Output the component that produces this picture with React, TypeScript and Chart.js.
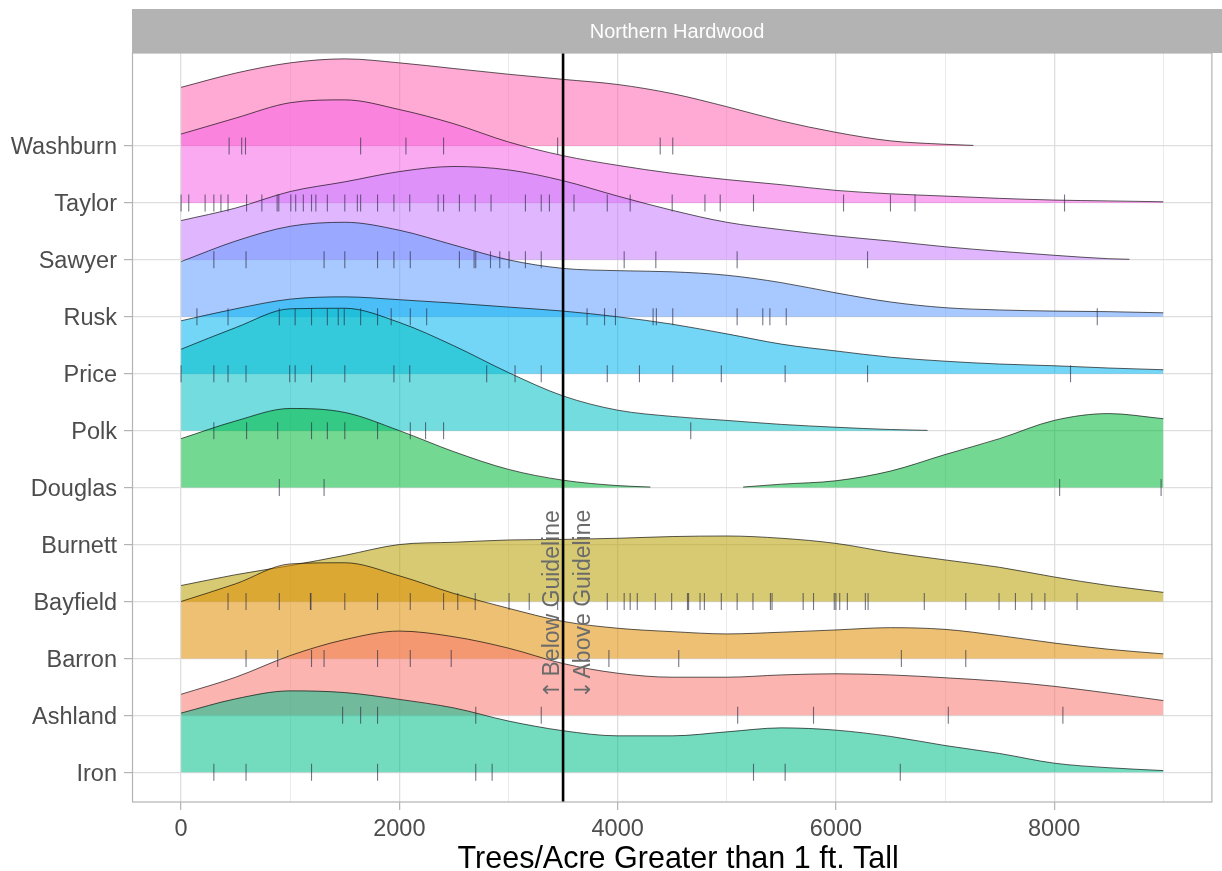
import React, { useEffect, useRef } from 'react';
import { Chart, registerables } from 'chart.js';

Chart.register(...registerables);

// ---------- DATA ----------
const COUNTIES = ['Iron', 'Ashland', 'Barron', 'Bayfield', 'Burnett', 'Douglas', 'Polk', 'Price', 'Rusk', 'Sawyer', 'Taylor', 'Washburn'];
const COLORS = ['#00C08B', '#F8766D', '#DE8C00', '#B79F00', '#7CAE00', '#00BA38', '#00BFC4', '#00B4F0', '#619CFF', '#C77CFF', '#F564E3', '#FF64B0'];

const STRIP_LABEL = 'Northern Hardwood';
const X_TITLE = 'Trees/Acre Greater than 1 ft. Tall';
const BELOW_LABEL = 'Below Guideline';
const ABOVE_LABEL = 'Above Guideline';
// arrows are part of the rotated labels (rotated 90° they point left / right)
const BELOW_ARROW = '\u2191';
const ABOVE_ARROW = '\u2193';
const GUIDELINE = 3500;
const X_GRID_TICKS = [0, 1000, 2000, 3000, 4000, 5000, 6000, 7000, 8000, 9000];
const X_TICK_LABELS = [0, 2000, 4000, 6000, 8000];

// density x positions (trees/acre)
const X_GRID = [0, 500, 1000, 1500, 2000, 2500, 3000, 3500, 4000, 4500, 5000, 5500, 6000, 6500, 7000, 7500, 8000, 8500, 9000];

// ridge heights (in row units)
const ironH = [1.04, 1.29, 1.43, 1.40, 1.28, 1.13, 0.90, 0.73, 0.64, 0.64, 0.71, 0.78, 0.74, 0.63, 0.47, 0.33, 0.16, 0.08, 0.03];
const ashlandH = [0.37, 0.67, 1.05, 1.33, 1.48, 1.38, 1.18, 0.91, 0.74, 0.67, 0.67, 0.71, 0.73, 0.71, 0.66, 0.60, 0.51, 0.39, 0.26];
const barronH = [1.00, 1.31, 1.66, 1.68, 1.45, 1.14, 0.88, 0.65, 0.53, 0.47, 0.43, 0.46, 0.50, 0.54, 0.51, 0.40, 0.27, 0.16, 0.08];
const bayfieldH = [0.28, 0.47, 0.63, 0.81, 1.00, 1.04, 1.08, 1.09, 1.11, 1.14, 1.15, 1.11, 1.02, 0.86, 0.73, 0.60, 0.43, 0.28, 0.16];
const douglasX1 = [0, 500, 1000, 1500, 2000, 2500, 3000, 3500, 4000, 4300];
const douglasH1 = [0.86, 1.17, 1.39, 1.32, 1.00, 0.63, 0.32, 0.13, 0.035, 0.01];
const douglasX2 = [5150, 5500, 6000, 6500, 7000, 7500, 8000, 8500, 9000];
const douglasH2 = [0.01, 0.06, 0.12, 0.29, 0.58, 0.86, 1.18, 1.30, 1.21];
const polkX = [0, 500, 1000, 1500, 2000, 2500, 3000, 3500, 4000, 4500, 5000, 5500, 6000, 6500, 6840];
const polkH = [1.43, 1.81, 2.14, 2.15, 1.90, 1.49, 1.02, 0.61, 0.36, 0.25, 0.18, 0.11, 0.06, 0.02, 0.005];
const priceH = [0.93, 1.14, 1.31, 1.35, 1.30, 1.24, 1.17, 1.10, 1.00, 0.87, 0.70, 0.52, 0.40, 0.29, 0.22, 0.17, 0.14, 0.10, 0.07];
const ruskH = [0.97, 1.33, 1.59, 1.66, 1.52, 1.26, 1.00, 0.85, 0.81, 0.79, 0.73, 0.60, 0.42, 0.26, 0.16, 0.12, 0.10, 0.09, 0.07];
const sawyerX = [0, 500, 1000, 1500, 2000, 2500, 3000, 3500, 4000, 4500, 5000, 5500, 6000, 6500, 7000, 7500, 8000, 8500, 8690];
const sawyerH = [0.69, 0.91, 1.20, 1.37, 1.55, 1.64, 1.58, 1.39, 1.12, 0.87, 0.66, 0.53, 0.42, 0.33, 0.23, 0.15, 0.08, 0.02, 0.01];
const taylorH = [1.21, 1.49, 1.76, 1.81, 1.64, 1.39, 1.07, 0.83, 0.66, 0.52, 0.41, 0.32, 0.22, 0.16, 0.12, 0.08, 0.05, 0.035, 0.02];
const washburnX = [0, 500, 1000, 1500, 2000, 2500, 3000, 3500, 4000, 4500, 5000, 5500, 6000, 6500, 7000, 7260];
const washburnH = [1.03, 1.28, 1.46, 1.53, 1.46, 1.36, 1.26, 1.17, 1.08, 0.92, 0.69, 0.44, 0.24, 0.09, 0.03, 0.01];

// rug (individual plot values)
const ironRug = [300, 595, 1195, 1800, 2700, 2850, 5245, 5535, 6590];
const ashlandRug = [1480, 1645, 1800, 2700, 3300, 5100, 5795, 7030, 8080];
const barronRug = [595, 885, 1195, 1310, 1800, 2100, 2475, 3920, 4560, 6600, 7190];
const bayfieldRug = [430, 595, 900, 1185, 1190, 1500, 1800, 2100, 2405, 2535, 2695, 3005, 3190, 3450, 3905, 4060, 4115, 4180, 4345, 4495, 4640, 4650, 4755, 4795, 4950, 5095, 5240, 5400, 5415, 5700, 5795, 5985, 6000, 6035, 6105, 6270, 6295, 6810, 7190, 7495, 7645, 7795, 7915, 8210];
const burnettRug: number[] = [];
const douglasRug = [900, 1310, 8050, 8980];
const polkRug = [300, 600, 885, 1195, 1340, 1500, 1800, 2100, 2240, 2405, 4670];
const priceRug = [0, 300, 430, 595, 995, 1045, 1195, 1500, 1950, 2095, 2800, 3060, 3300, 3905, 4200, 4505, 4950, 5535, 6290, 8150];
const ruskRug = [145, 430, 900, 1045, 1195, 1340, 1440, 1495, 1645, 1800, 1925, 2100, 2250, 3720, 3880, 3980, 4325, 4355, 4505, 5095, 5330, 5395, 5545, 8395];
const sawyerRug = [300, 595, 1310, 1500, 1800, 1950, 2100, 2550, 2685, 2700, 2835, 2920, 3005, 3155, 3300, 4060, 4350, 5095, 6290];
const taylorRug = [0, 70, 220, 300, 365, 430, 600, 740, 880, 895, 1005, 1050, 1120, 1195, 1235, 1340, 1500, 1615, 1645, 1800, 1950, 2095, 2355, 2405, 2550, 2695, 2840, 3155, 3300, 3375, 3600, 3905, 4115, 4500, 4800, 4940, 5245, 6070, 6500, 6725, 8095];
const washburnRug = [440, 555, 590, 1645, 2060, 2405, 3450, 4390, 4505];

const RIDGES: [string, number[], number[]][] = [
  ['Iron', X_GRID, ironH],
  ['Ashland', X_GRID, ashlandH],
  ['Barron', X_GRID, barronH],
  ['Bayfield', X_GRID, bayfieldH],
  ['Douglas', douglasX1, douglasH1],
  ['Douglas', douglasX2, douglasH2],
  ['Polk', polkX, polkH],
  ['Price', X_GRID, priceH],
  ['Rusk', X_GRID, ruskH],
  ['Sawyer', sawyerX, sawyerH],
  ['Taylor', X_GRID, taylorH],
  ['Washburn', washburnX, washburnH],
];

const RUGS: [string, number[]][] = [
  ['Iron', ironRug], ['Ashland', ashlandRug], ['Barron', barronRug], ['Bayfield', bayfieldRug],
  ['Burnett', burnettRug], ['Douglas', douglasRug], ['Polk', polkRug], ['Price', priceRug],
  ['Rusk', ruskRug], ['Sawyer', sawyerRug], ['Taylor', taylorRug], ['Washburn', washburnRug],
];

// ---------- STYLE ----------
const FONT = '"Liberation Sans", Arial, Helvetica, sans-serif';
const ARROW_FONT = '"DejaVu Sans", "Liberation Sans", sans-serif';

function rgba(hex: string, a: number) {
  const n = parseInt(hex.slice(1), 16);
  return `rgba(${(n >> 16) & 255},${(n >> 8) & 255},${n & 255},${a})`;
}

function rotatedText(ctx: any, text: string, x: number, y: number, align: string) {
  ctx.save();
  ctx.translate(x, y);
  ctx.rotate(-Math.PI / 2);
  ctx.textAlign = align;
  ctx.textBaseline = 'alphabetic';
  ctx.fillText(text, 0, 0);
  ctx.restore();
}

const decorPlugin = {
  id: 'decor',
  beforeDraw(chart: any) {
    const { ctx, chartArea: a } = chart;
    ctx.save();
    ctx.fillStyle = '#FFFFFF';
    ctx.fillRect(0, 0, chart.width, chart.height);
    ctx.fillStyle = '#B3B3B3';
    ctx.fillRect(a.left, 9, chart.width - a.left, a.top - 9);
    ctx.fillStyle = '#FFFFFF';
    ctx.font = `20px ${FONT}`;
    ctx.textAlign = 'center';
    ctx.textBaseline = 'middle';
    ctx.fillText(STRIP_LABEL, (a.left + chart.width) / 2, (9 + a.top) / 2 + 1);
    ctx.restore();
  },
  afterDatasetsDraw(chart: any) {
    const { ctx, chartArea: a, scales } = chart;
    const gx = scales.x.getPixelForValue(GUIDELINE);
    const cy = scales.y.getPixelForValue(COUNTIES.indexOf('Bayfield') + 1);
    ctx.save();
    // guideline
    ctx.strokeStyle = '#000000';
    ctx.lineWidth = 2.6;
    ctx.beginPath();
    ctx.moveTo(gx, a.top);
    ctx.lineTo(gx, a.bottom);
    ctx.stroke();
    // annotations
    ctx.fillStyle = '#6B6B6B';
    ctx.font = `23px ${FONT}`;
    rotatedText(ctx, BELOW_LABEL, gx - 4, cy + 75, 'left');
    rotatedText(ctx, ABOVE_LABEL, gx + 27, cy + 77, 'left');
    ctx.font = `22px ${ARROW_FONT}`;
    rotatedText(ctx, BELOW_ARROW, gx - 4, cy + 88, 'center');
    rotatedText(ctx, ABOVE_ARROW, gx + 27, cy + 88, 'center');
    // panel border
    ctx.strokeStyle = '#B3B3B3';
    ctx.lineWidth = 1.2;
    ctx.strokeRect(a.left + 0.5, a.top, a.right - a.left - 1, a.bottom - a.top);
    ctx.restore();
  },
  afterDraw(chart: any) {
    const { ctx, chartArea: a } = chart;
    ctx.save();
    ctx.fillStyle = '#000000';
    ctx.font = `30.5px ${FONT}`;
    ctx.textAlign = 'center';
    ctx.textBaseline = 'alphabetic';
    ctx.fillText(X_TITLE, (a.left + a.right) / 2 + 6, 868);
    ctx.restore();
  },
};

export default function App() {
  const ref = useRef<HTMLCanvasElement | null>(null);

  useEffect(() => {
    document.body.style.margin = '0';
    if (!ref.current) return;

    const ridgeSets = RIDGES.map(([county, xs, hs]) => {
      const idx = COUNTIES.indexOf(county);
      const base = idx + 1;
      return {
        type: 'line',
        label: county,
        data: xs.map((x, i) => ({ x, y: base + hs[i] })),
        fill: { value: base },
        backgroundColor: rgba(COLORS[idx], 0.55),
        borderColor: 'rgba(0,0,0,0.8)',
        borderWidth: 0.8,
        pointRadius: 0,
        cubicInterpolationMode: 'monotone',
        order: base,
      };
    });

    const rugPoints: { x: number; y: number }[] = [];
    RUGS.forEach(([county, vals]) => {
      const base = COUNTIES.indexOf(county) + 1;
      vals.forEach((v) => rugPoints.push({ x: v, y: base }));
    });

    const rugSet = {
      type: 'scatter',
      label: 'rug',
      data: rugPoints,
      showLine: false,
      pointStyle: 'line',
      rotation: 90,
      radius: 8.5,
      pointRadius: 8.5,
      borderColor: 'rgba(45,45,70,0.65)',
      borderWidth: 1.1,
      order: -1,
    };

    const chart = new Chart(ref.current, {
      type: 'line',
      data: { datasets: [...ridgeSets, rugSet] as any },
      plugins: [decorPlugin],
      options: {
        animation: false,
        responsive: true,
        maintainAspectRatio: false,
        events: [],
        layout: { padding: { top: 53, right: 1, left: 0, bottom: 0 } },
        plugins: { legend: { display: false }, tooltip: { enabled: false }, title: { display: false } },
        scales: {
          x: {
            type: 'linear',
            min: -450,
            max: 9450,
            afterFit: (s: any) => { s.height = 69; },
            afterBuildTicks: (s: any) => { s.ticks = X_GRID_TICKS.map((v) => ({ value: v })); },
            border: { display: false },
            grid: {
              color: (c: any) => (c.tick && c.tick.value % 2000 === 0 ? '#DEDEDE' : '#E9E9E9'),
              lineWidth: (c: any) => (c.tick && c.tick.value % 2000 === 0 ? 1.3 : 0.9),
              tickColor: (c: any) => (c.tick && X_TICK_LABELS.includes(c.tick.value) ? '#B3B3B3' : 'rgba(0,0,0,0)'),
              tickLength: 8,
              tickWidth: 1.2,
            },
            ticks: {
              autoSkip: false,
              maxRotation: 0,
              padding: 5,
              color: '#4D4D4D',
              font: { family: FONT, size: 23.5 },
              callback: (v: any) => (X_TICK_LABELS.includes(Number(v)) ? String(v) : ''),
            },
          },
          y: {
            type: 'linear',
            min: 0.478,
            max: 13.633,
            afterFit: (s: any) => { s.width = 132; },
            afterBuildTicks: (s: any) => { s.ticks = COUNTIES.map((_, i) => ({ value: i + 1 })); },
            border: { display: false },
            grid: {
              color: '#DEDEDE',
              lineWidth: 1.2,
              tickColor: '#B3B3B3',
              tickLength: 8,
              tickWidth: 1.2,
            },
            ticks: {
              autoSkip: false,
              padding: 7,
              labelOffset: 2,
              color: '#4D4D4D',
              font: { family: FONT, size: 23.5 },
              callback: (v: any) => COUNTIES[Math.round(Number(v)) - 1] ?? '',
            },
          },
        },
      } as any,
    });

    return () => chart.destroy();
  }, []);

  return (
    <div style={{ width: 1222, height: 871, position: 'relative' }}>
      <canvas ref={ref} />
    </div>
  );
}
